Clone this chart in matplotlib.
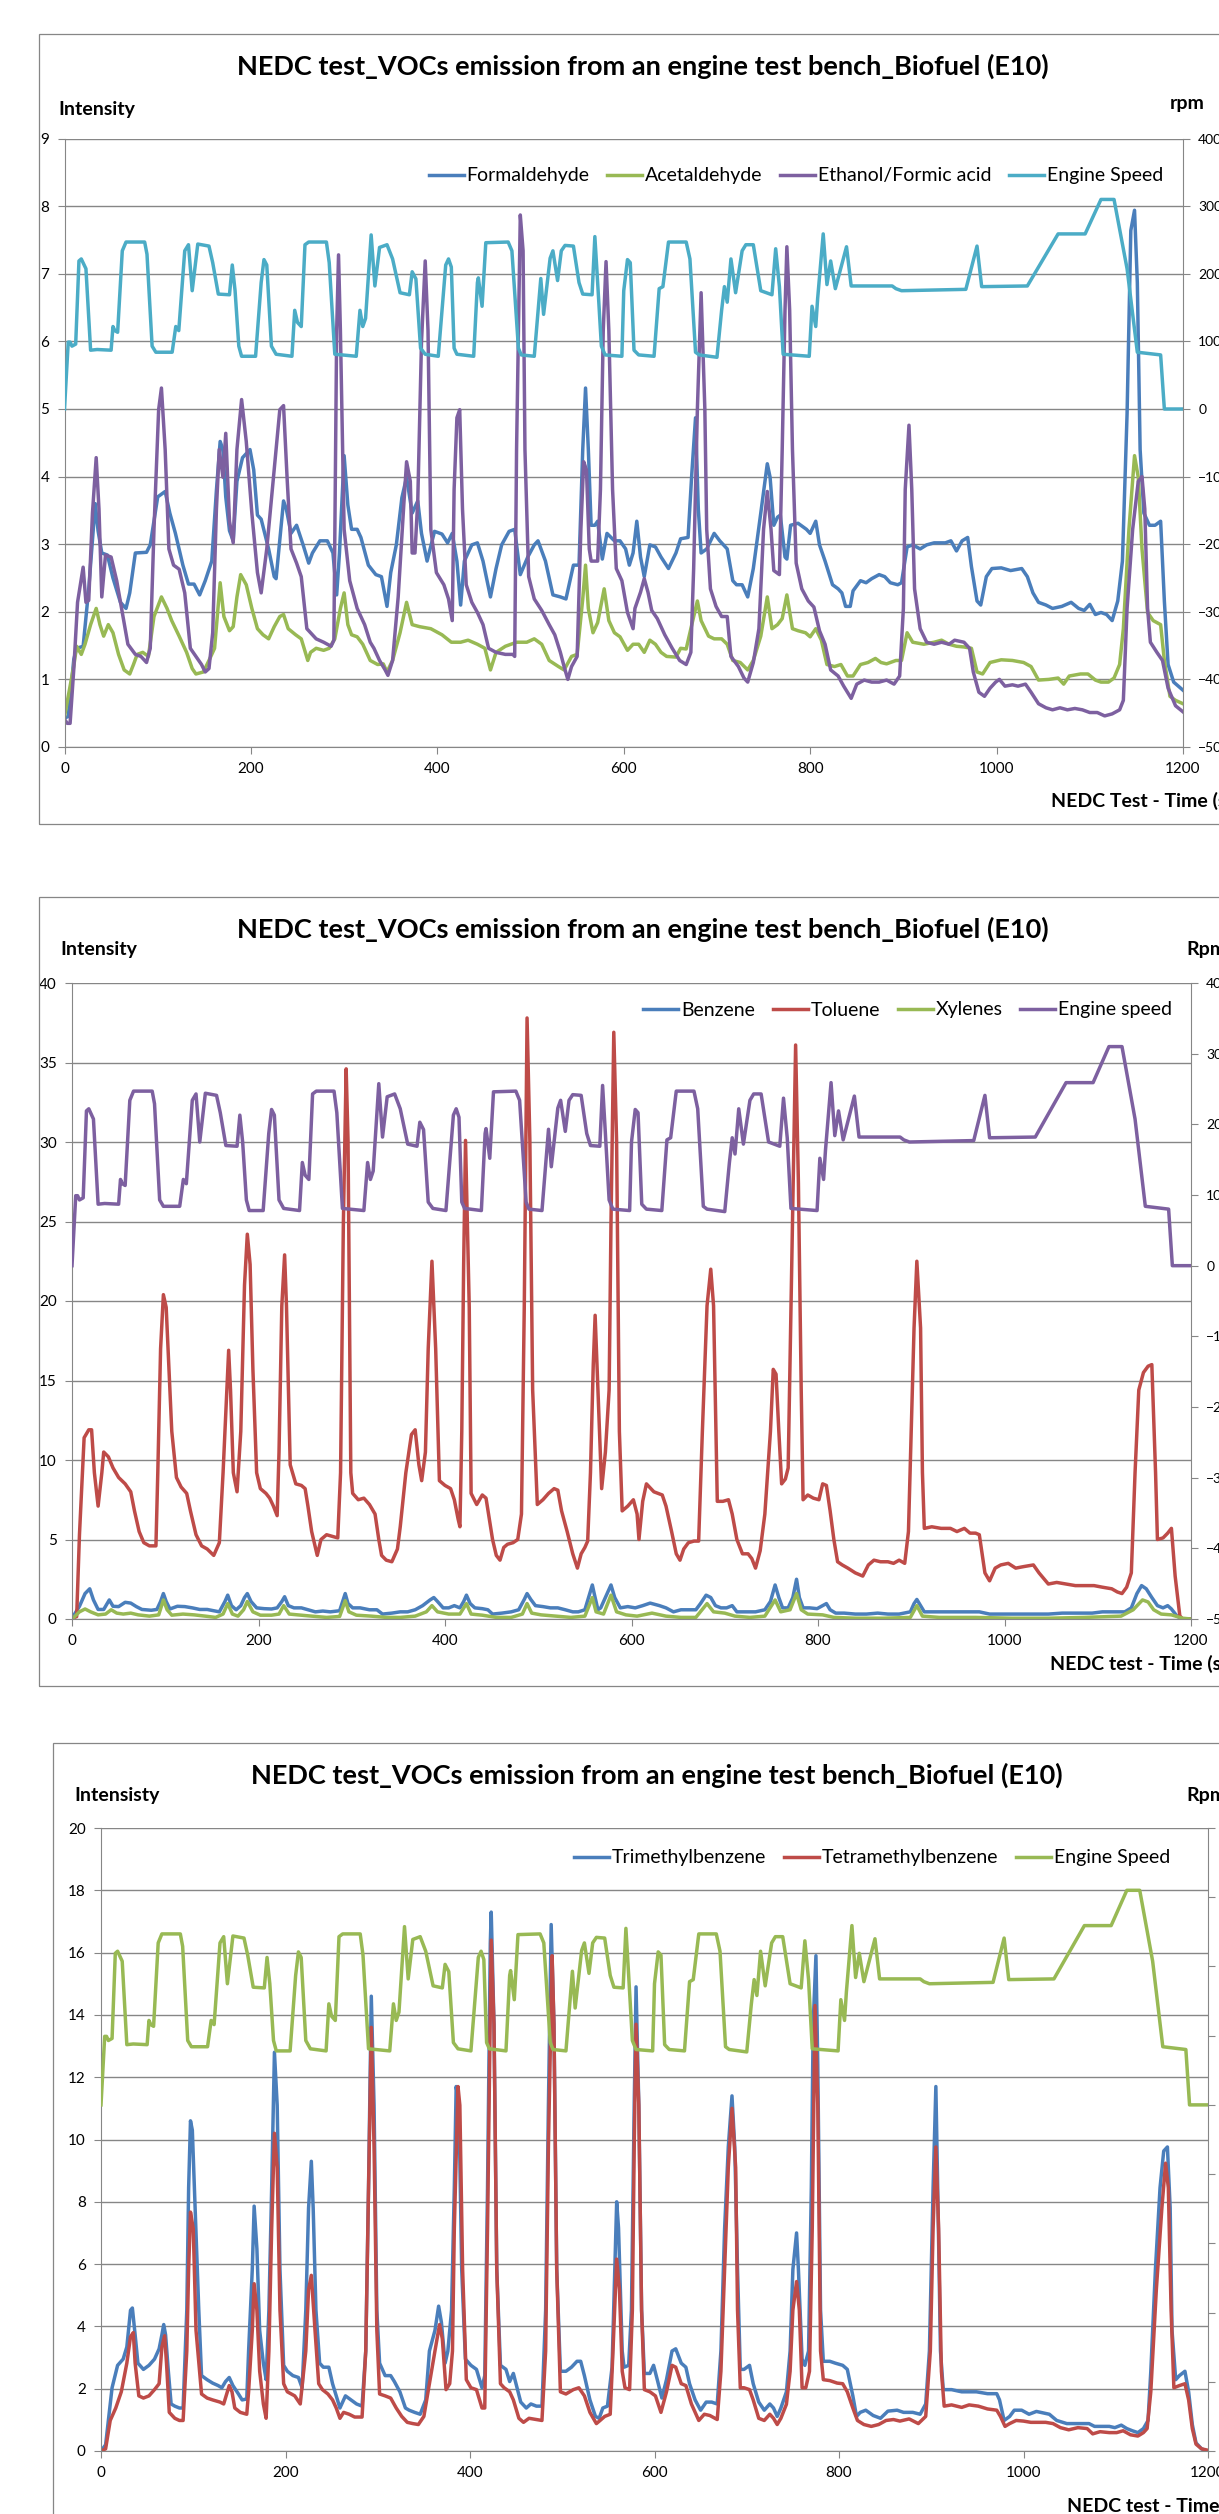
import matplotlib
matplotlib.use('Agg')
import matplotlib.pyplot as plt
from matplotlib.patches import Rectangle

plt.rcParams['font.family'] = ['Lato', 'DejaVu Sans']

W, H = 1219, 2514

BLUE = '#4A7EBB'
RED = '#BE4B48'
GREEN = '#98B954'
PURPLE = '#7D60A0'
AQUA = '#4BACC6'
GRID = '#868686'

# NEDC engine speed (rpm), same trace on all three charts
engine_speed = [(0, 0), (4, 990), (6, 990), (8, 930), (12, 960), (15.5, 2190), (18, 2220), (23, 2075), (28, 870), (35, 880),
                (50, 870), (52, 1220), (54, 1160), (57, 1135), (62, 2340), (66, 2470), (86, 2470), (88.5, 2290), (94, 930),
                (98, 840), (115.5, 840), (119.4, 1220), (122.6, 1160), (129, 2340), (133, 2430), (137, 1750), (143, 2440),
                (155, 2410), (159, 2165), (165, 1700), (177, 1690), (180, 2130), (183, 1750), (187, 930), (190, 780),
                (205, 780), (211, 1870), (214, 2210), (217, 2130), (222, 930), (227, 810), (244, 780), (247, 1460),
                (250, 1280), (254, 1220), (258, 2430), (262, 2470), (281, 2470), (284, 2165), (290, 810), (313, 780),
                (317, 1460), (320, 1220), (323, 1340), (329, 2575), (333, 1820), (338, 2390), (346, 2430), (352, 2220),
                (360, 1720), (370, 1690), (373, 2030), (377, 1925), (382, 900), (387, 810), (401, 780), (409, 2130),
                (412, 2220), (415, 2100), (418, 900), (421, 810), (439, 780), (443, 1870), (444, 1940), (448, 1520),
                (452, 2460), (476, 2470), (480, 2340), (487, 900), (490, 800), (504, 780), (511, 1930), (514, 1400),
                (517, 1750), (521, 2230), (524, 2340), (529, 1900), (533, 2340), (537, 2420), (546, 2410), (552, 1870),
                (556, 1700), (566, 1690), (569, 2550), (572, 1870), (576, 930), (580, 800), (598, 780), (600, 1750),
                (604, 2210), (607, 2165), (611, 870), (616, 800), (632.5, 780), (638, 1780), (642, 1810), (648, 2470),
                (667, 2470), (671, 2220), (677, 840), (681, 800), (700, 765), (705, 1460), (708, 1810), (711, 1580),
                (715, 2220), (720, 1720), (727, 2340), (731, 2430), (739, 2430), (747, 1750), (759, 1690), (763, 2370),
                (767, 1810), (771, 810), (799, 780), (802, 1520), (806, 1220), (808, 1630), (814, 2590), (818, 1840),
                (822, 2190), (827, 1780), (839, 2400), (844, 1820), (888, 1820), (892, 1780), (898, 1750), (967, 1770),
                (979, 2410), (984, 1810), (1033, 1820), (1066, 2590), (1095, 2590), (1112, 3100), (1126, 3100),
                (1140, 2075), (1144, 1630), (1151, 840), (1176, 800), (1180, 0), (1200, 0)]

# chart 1
formaldehyde = [(0, 0.43), (4, 0.45), (10, 1.3), (13, 1.46), (20, 1.49), (26, 2.34), (33, 3.6), (36, 3.2), (40, 2.87), (46, 2.84),
                (52, 2.5), (60, 2.14), (66, 2.05), (70, 2.28), (76, 2.87), (88, 2.88), (92, 2.99), (100, 3.7), (108, 3.78),
                (113, 3.46), (119, 3.16), (127, 2.69), (133, 2.41), (139, 2.41), (145, 2.25), (151, 2.46), (158, 2.75),
                (163, 3.8), (167, 4.52), (170, 4.4), (173, 3.7), (177, 3.2), (181, 3.05), (185, 3.93), (191, 4.28),
                (199, 4.4), (203, 4.1), (207, 3.43), (211, 3.37), (219, 2.93), (225, 2.52), (227, 2.49), (235, 3.64),
                (238, 3.52), (243, 3.16), (249, 3.28), (256, 2.99), (262, 2.72), (266, 2.87), (274, 3.05), (282, 3.05),
                (288, 2.87), (292, 2.25), (295, 2.87), (300, 4.31), (304, 3.58), (308, 3.22), (314, 3.22), (318, 3.1),
                (326, 2.69), (334, 2.55), (340, 2.52), (346, 2.08), (350, 2.58), (356, 2.99), (362, 3.69), (367, 3.99),
                (373, 3.46), (379, 3.64), (383, 3.16), (389, 2.75), (397, 3.19), (405, 3.15), (411, 3.02), (416, 3.16),
                (421, 2.75), (425, 2.1), (429, 2.75), (437, 2.99), (443, 3.02), (449, 2.75), (457, 2.22), (463, 2.64),
                (469, 2.99), (477, 3.19), (483, 3.22), (489, 2.55), (497, 2.81), (504, 2.99), (508, 3.05), (516, 2.75),
                (524, 2.25), (532, 2.22), (538, 2.19), (546, 2.69), (552, 2.69), (556, 4.4), (559, 5.31), (562, 4.4),
                (565, 3.28), (569, 3.28), (572, 3.34), (577, 2.78), (582, 3.16), (590, 3.05), (596, 3.05), (602, 2.93),
                (606, 2.69), (610, 2.87), (614, 3.34), (618, 2.81), (622, 2.52), (628, 2.99), (634, 2.96), (640, 2.81),
                (648, 2.64), (656, 2.87), (661, 3.08), (669, 3.1), (673, 4.04), (677, 4.87), (680, 3.52), (683, 2.87),
                (689, 2.93), (697, 3.16), (703, 3.05), (711, 2.93), (717, 2.46), (721, 2.4), (727, 2.4), (733, 2.22),
                (739, 2.64), (747, 3.46), (754, 4.19), (757, 3.99), (761, 3.28), (765, 3.4), (768, 3.43), (773, 2.81),
                (775, 2.78), (779, 3.28), (787, 3.31), (796, 3.22), (800, 3.16), (806, 3.34), (810, 2.99), (816, 2.75),
                (824, 2.4), (830, 2.34), (834, 2.28), (838, 2.08), (843, 2.08), (846, 2.31), (854, 2.46), (860, 2.43),
                (866, 2.49), (874, 2.55), (880, 2.52), (886, 2.43), (894, 2.4), (898, 2.43), (904, 2.96), (910, 2.99),
                (918, 2.93), (925, 2.99), (933, 3.02), (945, 3.02), (951, 3.05), (957, 2.9), (963, 3.05), (969, 3.1),
                (973, 2.67), (979, 2.16), (983, 2.1), (989, 2.52), (995, 2.64), (1005, 2.65), (1015, 2.61), (1027, 2.64),
                (1033, 2.52), (1039, 2.28), (1045, 2.14), (1053, 2.1), (1060, 2.05), (1070, 2.08), (1080, 2.14),
                (1088, 2.05), (1094, 2.02), (1100, 2.11), (1106, 1.96), (1112, 1.99), (1118, 1.96), (1124, 1.87),
                (1130, 2.16), (1135, 2.75), (1140, 4.93), (1144, 7.64), (1148, 7.94), (1151, 6.87), (1154, 4.4),
                (1158, 3.46), (1164, 3.28), (1170, 3.28), (1176, 3.34), (1180, 2.16), (1184, 1.22), (1190, 0.96),
                (1200, 0.84)]

acetaldehyde = [(0, 0.45), (10, 1.2), (13, 1.49), (18, 1.37), (22, 1.52), (28, 1.81), (34, 2.05), (38, 1.81), (42, 1.64),
                (47, 1.81), (52, 1.69), (58, 1.37), (64, 1.14), (70, 1.08), (74, 1.22), (78, 1.37), (84, 1.4), (90, 1.34),
                (96, 1.93), (104, 2.22), (110, 2.05), (115, 1.87), (123, 1.64), (131, 1.4), (137, 1.16), (141, 1.08),
                (149, 1.11), (155, 1.28), (161, 1.46), (167, 2.43), (171, 1.93), (177, 1.72), (181, 1.78), (185, 2.22),
                (189, 2.55), (195, 2.4), (201, 2.05), (207, 1.75), (213, 1.66), (219, 1.6), (225, 1.78), (231, 1.93),
                (235, 1.96), (240, 1.75), (248, 1.66), (254, 1.6), (261, 1.28), (264, 1.4), (270, 1.46), (278, 1.43),
                (284, 1.46), (290, 1.6), (296, 2.05), (300, 2.28), (304, 1.81), (308, 1.66), (314, 1.63), (320, 1.52),
                (328, 1.28), (336, 1.22), (342, 1.23), (346, 1.11), (352, 1.28), (360, 1.69), (367, 2.14), (373, 1.81),
                (381, 1.78), (393, 1.75), (405, 1.66), (415, 1.55), (425, 1.55), (433, 1.58), (443, 1.52), (451, 1.46),
                (457, 1.14), (463, 1.4), (473, 1.49), (485, 1.55), (496, 1.55), (504, 1.6), (512, 1.52), (520, 1.28),
                (530, 1.19), (536, 1.14), (544, 1.34), (550, 1.37), (556, 2.19), (559, 2.69), (562, 2.05), (567, 1.69),
                (572, 1.84), (579, 2.34), (584, 1.87), (590, 1.69), (596, 1.63), (604, 1.43), (610, 1.52), (616, 1.52),
                (622, 1.4), (628, 1.58), (634, 1.52), (640, 1.4), (646, 1.34), (656, 1.33), (661, 1.46), (667, 1.45),
                (673, 1.81), (679, 2.16), (683, 1.87), (691, 1.64), (697, 1.6), (705, 1.6), (711, 1.52), (717, 1.28),
                (725, 1.25), (733, 1.14), (739, 1.28), (747, 1.64), (754, 2.22), (759, 1.75), (765, 1.81), (770, 1.9),
                (775, 2.25), (781, 1.75), (787, 1.72), (795, 1.69), (800, 1.63), (806, 1.75), (812, 1.58), (818, 1.22),
                (826, 1.19), (833, 1.22), (840, 1.05), (846, 1.05), (854, 1.22), (862, 1.25), (870, 1.31), (876, 1.25),
                (882, 1.23), (892, 1.28), (898, 1.28), (904, 1.69), (910, 1.55), (922, 1.52), (933, 1.55), (941, 1.58),
                (949, 1.52), (957, 1.49), (965, 1.48), (973, 1.46), (979, 1.11), (985, 1.08), (993, 1.25), (1005, 1.29),
                (1017, 1.28), (1029, 1.25), (1037, 1.19), (1045, 0.99), (1056, 1.0), (1066, 1.02), (1072, 0.93),
                (1078, 1.05), (1090, 1.08), (1098, 1.08), (1106, 0.99), (1112, 0.96), (1120, 0.96), (1126, 1.02),
                (1132, 1.22), (1136, 1.75), (1142, 3.22), (1148, 4.31), (1152, 3.99), (1156, 2.93), (1162, 1.99),
                (1168, 1.87), (1176, 1.81), (1180, 1.28), (1186, 0.75), (1192, 0.69), (1200, 0.64)]

ethanol_formic = [(0, 0.41), (3, 0.35), (6, 0.35), (10, 1.16), (14, 2.14), (20, 2.66), (23, 2.14), (26, 2.17), (30, 3.46),
                  (34, 4.28), (37, 3.52), (40, 2.22), (44, 2.84), (50, 2.81), (56, 2.46), (62, 1.99), (68, 1.52), (76, 1.37),
                  (82, 1.34), (88, 1.25), (92, 1.46), (96, 3.22), (101, 4.99), (104, 5.31), (108, 4.4), (112, 2.93),
                  (117, 2.69), (123, 2.63), (129, 2.28), (135, 1.46), (141, 1.34), (147, 1.22), (151, 1.11), (155, 1.16),
                  (159, 1.69), (163, 3.52), (166, 4.4), (170, 3.99), (173, 4.64), (177, 3.34), (181, 3.02), (185, 4.4),
                  (190, 5.14), (195, 4.52), (201, 3.46), (207, 2.58), (211, 2.28), (217, 2.93), (225, 4.1), (231, 4.99),
                  (235, 5.05), (239, 3.93), (243, 2.93), (249, 2.72), (254, 2.52), (260, 1.75), (270, 1.6), (278, 1.55),
                  (286, 1.49), (289, 1.58), (292, 6.16), (294, 7.28), (296, 6.16), (300, 3.22), (306, 2.46), (314, 2.05),
                  (322, 1.81), (328, 1.55), (332, 1.46), (338, 1.28), (344, 1.14), (347, 1.06), (352, 1.28), (358, 2.22),
                  (364, 3.58), (367, 4.22), (371, 3.93), (373, 2.87), (376, 2.87), (379, 3.64), (383, 5.99), (387, 7.19),
                  (390, 6.16), (393, 3.22), (399, 2.58), (407, 2.4), (412, 2.19), (416, 1.87), (418, 3.81), (421, 4.87),
                  (424, 4.99), (427, 3.52), (431, 2.4), (437, 2.14), (443, 1.99), (449, 1.81), (455, 1.46), (463, 1.4),
                  (473, 1.37), (481, 1.37), (483, 1.34), (485, 4.4), (489, 7.87), (492, 7.34), (494, 4.4), (498, 2.52),
                  (504, 2.19), (512, 2.02), (520, 1.81), (526, 1.66), (532, 1.4), (536, 1.19), (540, 1.0), (544, 1.19),
                  (550, 1.34), (554, 3.22), (557, 4.22), (560, 4.1), (563, 2.93), (565, 2.75), (572, 2.75), (575, 3.81),
                  (578, 6.16), (581, 7.18), (584, 6.16), (588, 3.81), (592, 2.64), (598, 2.46), (604, 1.99), (610, 1.75),
                  (612, 2.05), (618, 2.29), (622, 2.49), (626, 2.29), (630, 2.02), (636, 1.9), (644, 1.66), (652, 1.46),
                  (660, 1.28), (667, 1.22), (672, 1.4), (675, 2.64), (679, 5.0), (683, 6.72), (687, 5.0), (689, 3.22),
                  (693, 2.34), (699, 2.08), (705, 1.93), (711, 1.93), (715, 1.34), (723, 1.19), (729, 1.02), (733, 0.96),
                  (739, 1.25), (745, 1.75), (750, 3.22), (754, 3.78), (758, 3.22), (761, 2.61), (767, 2.55), (770, 4.4),
                  (773, 6.46), (775, 7.4), (778, 6.46), (781, 4.4), (785, 2.72), (791, 2.34), (798, 2.16), (804, 2.07),
                  (810, 1.72), (816, 1.52), (822, 1.14), (830, 1.05), (836, 0.9), (844, 0.72), (850, 0.93), (858, 0.99),
                  (866, 0.96), (874, 0.96), (882, 0.99), (890, 0.93), (896, 1.05), (900, 2.05), (902, 3.81), (906, 4.76),
                  (909, 3.81), (912, 2.34), (918, 1.75), (925, 1.55), (933, 1.52), (941, 1.55), (949, 1.52), (955, 1.58),
                  (965, 1.55), (971, 1.46), (975, 1.11), (981, 0.81), (987, 0.75), (993, 0.87), (999, 0.96), (1003, 1.0),
                  (1009, 0.9), (1017, 0.92), (1023, 0.9), (1031, 0.93), (1037, 0.81), (1045, 0.64), (1053, 0.58),
                  (1060, 0.55), (1068, 0.58), (1076, 0.55), (1084, 0.57), (1092, 0.55), (1100, 0.51), (1108, 0.51),
                  (1116, 0.46), (1124, 0.49), (1132, 0.55), (1136, 0.69), (1140, 2.05), (1146, 3.22), (1152, 3.93),
                  (1156, 4.0), (1159, 3.52), (1162, 2.05), (1165, 1.55), (1172, 1.4), (1178, 1.28), (1184, 0.87),
                  (1192, 0.61), (1200, 0.52)]

# chart 2
benzene = [(0, 0.05), (8, 0.8), (14, 1.6), (19, 1.9), (23, 1.2), (28, 0.6), (34, 0.6), (40, 1.2), (44, 0.8), (50, 0.78),
           (57, 1.05), (63, 1.0), (69, 0.78), (75, 0.6), (85, 0.55), (91, 0.6), (95, 1.1), (98, 1.6), (101, 1.1),
           (105, 0.63), (113, 0.8), (121, 0.78), (129, 0.7), (137, 0.6), (145, 0.6), (152, 0.52), (158, 0.45), (164, 1.1),
           (167, 1.5), (171, 0.84), (176, 0.58), (181, 0.84), (185, 1.35), (188, 1.6), (192, 1.1), (198, 0.7), (206, 0.65),
           (214, 0.63), (220, 0.7), (225, 1.1), (228, 1.4), (232, 0.84), (238, 0.7), (246, 0.7), (253, 0.58), (261, 0.45),
           (269, 0.5), (277, 0.45), (287, 0.52), (291, 1.23), (293, 1.6), (296, 0.97), (301, 0.7), (309, 0.7), (319, 0.58),
           (327, 0.58), (333, 0.31), (343, 0.37), (352, 0.45), (360, 0.45), (368, 0.58), (376, 0.84), (384, 1.2),
           (388, 1.35), (392, 1.1), (398, 0.7), (404, 0.7), (410, 0.84), (416, 0.7), (420, 1.1), (423, 1.5), (427, 0.97),
           (432, 0.7), (440, 0.65), (446, 0.58), (451, 0.31), (461, 0.37), (471, 0.45), (479, 0.58), (485, 1.23),
           (488, 1.6), (492, 1.23), (497, 0.84), (505, 0.78), (513, 0.7), (521, 0.7), (529, 0.58), (537, 0.45),
           (543, 0.45), (550, 0.58), (554, 1.35), (558, 2.14), (560, 1.6), (564, 0.58), (567, 0.7), (572, 1.35),
           (578, 2.14), (582, 1.35), (588, 0.7), (596, 0.78), (604, 0.7), (612, 0.84), (620, 1.0), (630, 0.84),
           (637, 0.7), (645, 0.45), (653, 0.58), (661, 0.58), (669, 0.58), (674, 0.97), (680, 1.5), (685, 1.35),
           (690, 0.84), (696, 0.7), (702, 0.7), (708, 0.84), (713, 0.45), (723, 0.45), (733, 0.45), (743, 0.58),
           (749, 1.1), (754, 2.14), (758, 1.35), (762, 0.7), (768, 0.7), (773, 1.35), (777, 2.5), (780, 1.35), (784, 0.7),
           (791, 0.7), (799, 0.65), (805, 0.84), (809, 0.97), (813, 0.58), (819, 0.37), (828, 0.37), (840, 0.31),
           (852, 0.31), (864, 0.37), (875, 0.31), (887, 0.31), (899, 0.45), (903, 0.97), (906, 1.23), (910, 0.84),
           (914, 0.45), (926, 0.45), (938, 0.45), (949, 0.45), (961, 0.45), (973, 0.45), (984, 0.31), (1000, 0.31),
           (1016, 0.31), (1031, 0.31), (1047, 0.31), (1062, 0.37), (1078, 0.37), (1094, 0.37), (1105, 0.45),
           (1117, 0.45), (1129, 0.45), (1136, 0.7), (1142, 1.6), (1147, 2.1), (1152, 1.9), (1158, 1.35), (1164, 0.84),
           (1170, 0.7), (1175, 0.84), (1179, 0.63), (1185, 0.18), (1191, 0.0), (1200, 0.0)]

toluene = [(0, 0.05), (5, 0.15), (8, 5.3), (13, 11.4), (18, 11.9), (21, 11.9), (24, 9.2), (28, 7.1), (32, 9.2), (34, 10.5),
           (39, 10.2), (44, 9.5), (50, 8.9), (57, 8.5), (63, 8.0), (67, 6.8), (72, 5.5), (77, 4.8), (83, 4.6), (90, 4.6),
           (92, 9.2), (95, 17.0), (98, 20.4), (101, 19.6), (104, 15.7), (107, 11.8), (112, 8.9), (117, 8.3), (123, 7.9),
           (127, 6.8), (133, 5.3), (139, 4.6), (145, 4.4), (152, 4.0), (158, 4.8), (162, 9.2), (166, 14.4), (168, 16.9),
           (170, 14.4), (173, 9.2), (177, 8.0), (181, 11.8), (185, 21.0), (188, 24.2), (191, 22.3), (194, 15.7),
           (198, 9.2), (202, 8.2), (208, 7.9), (212, 7.6), (216, 7.1), (220, 6.5), (222, 10.5), (225, 19.7), (228, 22.9),
           (230, 19.7), (234, 9.7), (240, 8.5), (246, 8.4), (250, 8.2), (253, 7.1), (257, 5.5), (263, 4.0), (267, 5.0),
           (273, 5.3), (279, 5.2), (285, 5.1), (288, 9.2), (291, 24.9), (294, 34.6), (296, 30.1), (299, 9.2), (301, 7.9),
           (307, 7.5), (313, 7.6), (319, 7.2), (325, 6.6), (329, 5.0), (332, 4.0), (337, 3.7), (343, 3.6), (349, 4.4),
           (352, 5.8), (358, 9.2), (364, 11.6), (368, 11.9), (372, 9.7), (375, 8.7), (379, 10.5), (382, 17.0),
           (386, 22.5), (390, 17.0), (394, 8.7), (400, 8.4), (406, 8.2), (410, 7.5), (414, 6.3), (416, 5.8), (418, 11.8),
           (420, 22.3), (422, 30.1), (426, 19.6), (428, 7.9), (434, 7.2), (440, 7.8), (444, 7.6), (448, 6.1), (451, 5.0),
           (455, 4.0), (459, 3.7), (463, 4.5), (467, 4.7), (473, 4.8), (478, 5.0), (482, 6.6), (485, 19.6), (488, 37.8),
           (491, 30.1), (494, 14.4), (499, 7.2), (505, 7.5), (511, 7.9), (517, 8.2), (521, 8.1), (525, 6.8), (531, 5.5),
           (537, 4.1), (542, 3.2), (546, 4.1), (550, 4.5), (553, 4.9), (556, 9.2), (559, 16.0), (561, 19.1), (564, 14.4),
           (568, 8.2), (572, 10.5), (576, 14.4), (578, 24.9), (581, 36.9), (584, 30.1), (587, 11.8), (590, 6.8),
           (596, 7.1), (602, 7.5), (606, 6.6), (608, 5.0), (612, 7.4), (616, 8.5), (624, 8.0), (633, 7.8), (637, 7.1),
           (643, 5.5), (648, 4.1), (652, 3.7), (656, 4.4), (661, 4.8), (667, 4.9), (672, 4.9), (676, 11.8), (681, 19.7),
           (685, 22.0), (688, 19.7), (692, 7.4), (698, 7.4), (704, 7.5), (708, 6.6), (713, 5.0), (719, 4.1), (725, 4.1),
           (729, 3.8), (733, 3.2), (738, 4.3), (743, 6.6), (749, 11.8), (752, 15.7), (755, 15.4), (758, 11.8),
           (761, 8.5), (765, 8.8), (768, 9.5), (771, 19.6), (774, 30.1), (776, 36.1), (779, 27.4), (782, 14.4),
           (784, 7.5), (789, 7.8), (795, 7.6), (801, 7.5), (805, 8.5), (809, 8.4), (813, 6.8), (817, 5.0), (821, 3.6),
           (826, 3.4), (832, 3.2), (840, 2.9), (848, 2.7), (854, 3.4), (860, 3.7), (867, 3.6), (875, 3.6), (881, 3.5),
           (887, 3.7), (893, 3.5), (897, 5.5), (900, 11.8), (903, 18.3), (906, 22.5), (910, 18.3), (912, 9.2),
           (914, 5.7), (922, 5.8), (932, 5.7), (942, 5.7), (949, 5.5), (957, 5.7), (963, 5.4), (969, 5.4), (973, 5.3),
           (979, 2.9), (984, 2.4), (990, 3.2), (996, 3.4), (1004, 3.5), (1012, 3.2), (1021, 3.3), (1031, 3.4),
           (1037, 2.9), (1047, 2.2), (1056, 2.3), (1066, 2.2), (1076, 2.1), (1086, 2.1), (1096, 2.1), (1105, 2.0),
           (1115, 1.9), (1121, 1.7), (1126, 1.6), (1131, 2.0), (1136, 2.9), (1140, 9.2), (1144, 14.4), (1149, 15.5),
           (1154, 15.9), (1158, 16.0), (1162, 9.2), (1164, 5.0), (1170, 5.1), (1175, 5.4), (1179, 5.7), (1183, 2.7),
           (1188, 0.2), (1191, 0.0), (1200, 0.0)]

xylenes = [(0, 0.0), (8, 0.45), (14, 0.63), (20, 0.45), (28, 0.26), (36, 0.31), (42, 0.58), (48, 0.37), (55, 0.31),
           (63, 0.37), (71, 0.26), (83, 0.18), (93, 0.26), (98, 1.2), (102, 0.58), (107, 0.24), (119, 0.31), (131, 0.26),
           (143, 0.18), (154, 0.1), (162, 0.31), (167, 0.97), (172, 0.31), (178, 0.18), (184, 0.58), (188, 1.1),
           (194, 0.45), (202, 0.24), (214, 0.24), (222, 0.31), (227, 0.84), (233, 0.31), (242, 0.26), (257, 0.18),
           (273, 0.1), (287, 0.16), (293, 1.15), (297, 0.45), (305, 0.24), (321, 0.18), (337, 0.1), (352, 0.1),
           (368, 0.18), (380, 0.45), (386, 0.84), (392, 0.45), (404, 0.31), (416, 0.31), (423, 0.97), (428, 0.31),
           (440, 0.24), (455, 0.1), (471, 0.1), (483, 0.31), (488, 0.97), (493, 0.37), (503, 0.26), (519, 0.18),
           (535, 0.1), (550, 0.18), (558, 1.35), (562, 0.45), (570, 0.31), (578, 1.5), (584, 0.45), (594, 0.26),
           (606, 0.18), (622, 0.37), (637, 0.18), (653, 0.1), (669, 0.1), (681, 0.97), (688, 0.45), (700, 0.37),
           (711, 0.18), (727, 0.1), (743, 0.18), (754, 1.2), (760, 0.45), (770, 0.58), (777, 1.6), (782, 0.58),
           (789, 0.31), (805, 0.26), (817, 0.1), (840, 0.05), (871, 0.05), (899, 0.1), (906, 0.84), (912, 0.18),
           (930, 0.1), (969, 0.1), (1008, 0.05), (1047, 0.05), (1086, 0.1), (1125, 0.18), (1138, 0.58), (1148, 1.2),
           (1154, 1.07), (1160, 0.58), (1168, 0.31), (1179, 0.26), (1191, 0.05), (1200, 0.0)]

# chart 3
trimethylbenzene = [(0, 0.0), (5, 0.2), (12, 2.03), (18, 2.75), (24, 2.95), (28, 3.34), (32, 4.52), (34, 4.59), (37, 3.73),
                    (40, 2.82), (46, 2.62), (52, 2.75), (58, 2.95), (63, 3.28), (66, 3.73), (68, 4.06), (70, 3.73),
                    (73, 2.56), (76, 1.51), (80, 1.44), (85, 1.38), (89, 1.38), (93, 4.52), (95, 8.45), (97, 10.6),
                    (99, 10.3), (102, 7.8), (106, 4.52), (109, 2.42), (115, 2.29), (121, 2.18), (127, 2.1), (131, 2.03),
                    (135, 2.23), (139, 2.36), (143, 2.1), (149, 1.83), (153, 1.64), (158, 1.67), (160, 3.21), (164, 5.83),
                    (166, 7.86), (169, 6.49), (172, 3.87), (176, 2.82), (179, 2.29), (182, 4.52), (185, 8.45), (188, 12.8),
                    (191, 11.1), (194, 5.83), (198, 2.75), (202, 2.56), (208, 2.42), (214, 2.36), (218, 2.03), (222, 4.52),
                    (225, 7.8), (228, 9.3), (230, 7.8), (233, 4.52), (237, 2.82), (241, 2.69), (247, 2.69), (251, 2.16),
                    (255, 1.77), (259, 1.38), (265, 1.77), (271, 1.64), (277, 1.51), (283, 1.44), (287, 3.21), (290, 8.45),
                    (293, 14.6), (296, 11.1), (299, 4.52), (302, 2.82), (308, 2.42), (314, 2.42), (318, 2.23), (324, 1.9),
                    (330, 1.38), (334, 1.31), (340, 1.24), (346, 1.18), (352, 1.64), (356, 3.21), (362, 3.87), (366, 4.65),
                    (369, 4.13), (373, 2.82), (376, 3.21), (380, 4.52), (383, 8.45), (385, 11.7), (388, 11.1), (391, 5.83),
                    (395, 2.95), (401, 2.75), (407, 2.62), (413, 2.03), (416, 2.42), (419, 8.45), (422, 16.3), (423, 17.3),
                    (426, 13.7), (429, 5.83), (433, 2.75), (439, 2.62), (443, 2.23), (447, 2.49), (451, 2.03), (455, 1.57),
                    (461, 1.38), (466, 1.51), (472, 1.44), (478, 1.44), (482, 4.52), (485, 11.1), (488, 16.9), (491, 13.7),
                    (494, 5.83), (498, 2.56), (504, 2.56), (510, 2.69), (516, 2.88), (520, 2.88), (524, 2.42), (530, 1.64),
                    (536, 1.11), (540, 1.05), (544, 1.38), (549, 1.44), (554, 2.69), (557, 5.83), (559, 8.0), (561, 7.16),
                    (565, 3.21), (567, 2.69), (572, 2.75), (575, 4.52), (578, 11.1), (580, 14.9), (583, 11.1), (586, 4.52),
                    (589, 2.49), (595, 2.49), (599, 2.75), (603, 2.29), (608, 1.7), (613, 2.29), (619, 3.21), (623, 3.28),
                    (629, 2.82), (634, 2.69), (638, 2.16), (644, 1.64), (650, 1.31), (656, 1.57), (662, 1.57), (668, 1.51),
                    (672, 3.21), (676, 7.14), (680, 9.76), (684, 11.4), (687, 9.76), (690, 5.83), (693, 2.62), (697, 2.62),
                    (703, 2.75), (707, 2.16), (713, 1.57), (719, 1.31), (725, 1.51), (729, 1.38), (733, 1.11), (737, 1.38),
                    (743, 1.9), (747, 3.21), (750, 5.83), (754, 7.0), (756, 5.83), (760, 2.95), (763, 2.75), (767, 3.21),
                    (770, 8.45), (772, 13.7), (775, 15.9), (777, 12.4), (780, 4.52), (783, 2.88), (790, 2.88), (796, 2.82),
                    (804, 2.75), (809, 2.62), (815, 1.77), (819, 1.11), (823, 1.24), (829, 1.31), (837, 1.14), (845, 1.05),
                    (853, 1.28), (863, 1.31), (870, 1.24), (880, 1.24), (888, 1.18), (894, 1.51), (898, 3.21), (902, 8.45),
                    (905, 11.7), (907, 8.45), (910, 3.21), (913, 1.97), (922, 1.97), (933, 1.9), (949, 1.9), (961, 1.84),
                    (971, 1.84), (974, 1.64), (979, 0.98), (985, 1.11), (990, 1.31), (998, 1.31), (1006, 1.18),
                    (1014, 1.27), (1022, 1.22), (1028, 1.18), (1036, 0.98), (1047, 0.88), (1059, 0.88), (1071, 0.88),
                    (1077, 0.79), (1085, 0.79), (1093, 0.79), (1099, 0.75), (1106, 0.83), (1112, 0.72), (1118, 0.65),
                    (1124, 0.59), (1130, 0.72), (1135, 0.98), (1138, 2.56), (1143, 5.83), (1148, 8.45), (1152, 9.63),
                    (1156, 9.76), (1159, 7.8), (1161, 3.87), (1165, 2.29), (1169, 2.42), (1175, 2.56), (1179, 1.9),
                    (1183, 0.85), (1187, 0.26), (1193, 0.07), (1199, 0.0)]

tetramethylbenzene = [(0, 0.0), (5, 0.07), (10, 0.98), (16, 1.38), (22, 1.9), (28, 2.82), (32, 3.67), (35, 3.8), (37, 2.82),
                      (41, 1.77), (46, 1.7), (52, 1.77), (58, 1.97), (63, 2.16), (66, 3.34), (69, 3.7), (71, 2.82),
                      (74, 1.24), (80, 1.05), (85, 0.98), (89, 0.98), (93, 3.21), (95, 5.83), (97, 7.67), (100, 7.14),
                      (103, 3.87), (109, 1.83), (115, 1.7), (121, 1.64), (129, 1.57), (133, 1.51), (139, 2.1), (142, 1.9),
                      (145, 1.38), (151, 1.24), (158, 1.18), (160, 1.9), (164, 3.87), (166, 5.37), (169, 4.52), (172, 2.56),
                      (176, 1.51), (179, 1.05), (182, 3.21), (185, 7.14), (188, 10.2), (191, 9.1), (194, 4.52), (198, 2.16),
                      (202, 1.9), (210, 1.77), (216, 1.51), (222, 3.21), (225, 5.18), (228, 5.64), (232, 3.87), (236, 2.16),
                      (240, 1.97), (246, 1.83), (251, 1.64), (255, 1.38), (259, 1.05), (263, 1.24), (269, 1.18),
                      (275, 1.09), (283, 1.09), (287, 3.21), (290, 8.45), (293, 13.6), (296, 9.76), (299, 3.87),
                      (302, 1.83), (308, 1.77), (314, 1.7), (320, 1.38), (326, 1.11), (332, 0.92), (338, 0.88), (344, 0.85),
                      (350, 1.11), (356, 2.16), (362, 3.21), (367, 4.06), (370, 3.6), (374, 1.97), (378, 2.16), (381, 3.21),
                      (383, 7.14), (387, 11.7), (389, 11.1), (392, 5.83), (396, 2.29), (401, 2.03), (407, 1.97),
                      (413, 1.38), (416, 1.38), (419, 7.14), (423, 16.4), (426, 13.7), (429, 5.83), (433, 2.16),
                      (437, 2.03), (443, 1.9), (447, 1.64), (453, 1.05), (458, 0.92), (464, 1.05), (472, 1.01), (478, 0.98),
                      (482, 3.21), (485, 9.76), (489, 15.9), (491, 13.7), (494, 5.83), (498, 1.9), (504, 1.83), (512, 1.97),
                      (518, 2.03), (524, 1.77), (530, 1.24), (537, 0.88), (541, 0.98), (546, 1.11), (552, 1.18),
                      (555, 3.21), (559, 6.16), (562, 5.18), (565, 2.56), (568, 2.03), (573, 1.97), (576, 4.52),
                      (578, 9.76), (580, 13.7), (583, 11.1), (586, 4.52), (589, 1.97), (595, 1.9), (601, 1.77),
                      (607, 1.24), (613, 1.9), (619, 2.75), (623, 2.69), (629, 2.16), (634, 2.1), (640, 1.51), (648, 0.98),
                      (654, 1.18), (660, 1.14), (668, 1.01), (672, 2.56), (676, 5.83), (680, 9.1), (684, 11.0), (688, 9.1),
                      (690, 4.52), (693, 2.03), (697, 2.03), (703, 1.97), (707, 1.64), (713, 1.05), (719, 0.98),
                      (725, 1.18), (729, 1.05), (733, 0.85), (737, 1.05), (743, 1.5), (747, 2.56), (750, 4.52), (754, 5.44),
                      (757, 4.52), (760, 2.03), (764, 2.03), (768, 2.56), (771, 7.14), (774, 14.3), (777, 11.1),
                      (780, 3.21), (783, 2.29), (790, 2.26), (798, 2.18), (804, 2.16), (809, 1.9), (815, 1.38), (820, 0.98),
                      (827, 0.85), (835, 0.79), (843, 0.85), (851, 0.98), (859, 1.01), (866, 0.96), (876, 1.03),
                      (886, 0.88), (894, 1.11), (899, 3.21), (902, 7.14), (905, 9.76), (908, 7.14), (911, 2.56),
                      (914, 1.44), (922, 1.48), (933, 1.4), (941, 1.48), (951, 1.44), (961, 1.35), (971, 1.31),
                      (975, 1.11), (980, 0.79), (985, 0.88), (992, 0.98), (1000, 0.96), (1008, 0.92), (1016, 0.92),
                      (1024, 0.92), (1032, 0.88), (1040, 0.75), (1049, 0.68), (1059, 0.75), (1069, 0.72), (1075, 0.55),
                      (1083, 0.62), (1093, 0.59), (1101, 0.59), (1108, 0.65), (1116, 0.52), (1124, 0.48), (1130, 0.59),
                      (1134, 0.72), (1138, 1.9), (1144, 5.18), (1150, 7.8), (1154, 9.24), (1157, 8.45), (1160, 4.52),
                      (1163, 2.03), (1169, 2.1), (1175, 2.16), (1179, 1.64), (1183, 0.72), (1187, 0.22), (1193, 0.07),
                      (1199, 0.03)]

X_TICKS = [0, 200, 400, 600, 800, 1000, 1200]
RPM_TICKS = [-5000, -4000, -3000, -2000, -1000, 0, 1000, 2000, 3000, 4000]


def fig_xy(x, y):
    """ Pixel position (from top-left) to figure fraction. """
    return x / W, 1 - y / H


def px_rect(x0, y0, x1, y1):
    return [x0 / W, 1 - y1 / H, (x1 - x0) / W, (y1 - y0) / H]


def draw_panel(fig, frame, plot, series, ymax, ystep, speed_color, speed_label,
               title_y, title_x, ylab, ylab_xy, rlab, rlab_xy, xlab, xlab_xy, legend_xy):
    """ One Excel style chart: emissions on the left axis, engine speed on the right one. """
    fx0, fy0, fx1, fy1 = frame
    fig.add_artist(Rectangle(fig_xy(fx0, fy1), (fx1 - fx0) / W, (fy1 - fy0) / H,
                             transform=fig.transFigure, fill=False, edgecolor=GRID, lw=0.9))

    ax = fig.add_axes(px_rect(*plot))
    handles = []
    for name, pts, color in series:
        t, v = zip(*pts)
        line, = ax.plot(t, v, color=color, lw=2.5, label=name, solid_joinstyle='round')
        handles.append(line)
    ax.set_xlim(0, 1200)
    ax.set_ylim(0, ymax)
    ax.set_xticks(X_TICKS)
    ax.set_yticks([ystep * i for i in range(int(round(ymax / ystep)) + 1)])
    ax.yaxis.grid(True, color=GRID, lw=1.0)
    ax.set_axisbelow(True)
    for side in ['top', 'right']:
        ax.spines[side].set_visible(False)
    for side in ['left', 'bottom']:
        ax.spines[side].set_color(GRID)
    ax.tick_params(axis='both', colors=GRID, labelcolor='black', labelsize=11, length=5, direction='out')
    ax.tick_params(axis='x', pad=6)
    ax.tick_params(axis='y', pad=6)

    ax2 = ax.twinx()
    t, v = zip(*engine_speed)
    sline, = ax2.plot(t, v, color=speed_color, lw=2.5, label=speed_label, solid_joinstyle='round')
    handles.append(sline)
    ax2.set_ylim(-5000, 4000)
    ax2.set_yticks(RPM_TICKS)
    for side in ['top', 'left', 'bottom']:
        ax2.spines[side].set_visible(False)
    ax2.spines['right'].set_color(GRID)
    ax2.tick_params(axis='y', colors=GRID, labelcolor='black', labelsize=10, length=5, direction='out', pad=6)

    fig.text(*fig_xy(title_x, title_y), 'NEDC test_VOCs emission from an engine test bench_Biofuel (E10)',
             ha='center', va='center', fontsize=19.5, fontweight='bold')
    fig.text(*fig_xy(*ylab_xy), ylab, ha='left', va='center', fontsize=14, fontweight='bold')
    fig.text(*fig_xy(*rlab_xy), rlab, ha='left', va='center', fontsize=14, fontweight='bold')
    fig.text(*fig_xy(*xlab_xy), xlab, ha='left', va='center', fontsize=14, fontweight='bold')

    fig.legend(handles, [h.get_label() for h in handles], loc='center right',
               bbox_to_anchor=fig_xy(*legend_xy), ncol=len(handles), frameon=False, fontsize=14,
               handlelength=1.8, handletextpad=0.15, columnspacing=0.9, borderaxespad=0, borderpad=0)
    return ax, ax2


fig = plt.figure(figsize=(W / 100, H / 100), dpi=100)

draw_panel(fig, (39, 34, 1300, 824), (64.5, 138.6, 1183, 747),
           [('Formaldehyde', formaldehyde, BLUE), ('Acetaldehyde', acetaldehyde, GREEN),
            ('Ethanol/Formic acid', ethanol_formic, PURPLE)],
           9, 1, AQUA, 'Engine Speed',
           66, 643, 'Intensity', (58, 110), 'rpm', (1170, 103), 'NEDC Test - Time (s)', (1051, 801), (1163, 176))

draw_panel(fig, (39, 897, 1300, 1686), (72, 983, 1191, 1619),
           [('Benzene', benzene, BLUE), ('Toluene', toluene, RED), ('Xylenes', xylenes, GREEN)],
           40, 5, PURPLE, 'Engine speed',
           929, 643, 'Intensity', (60, 950), 'Rpm', (1186, 949), 'NEDC test - Time (s)', (1050, 1664), (1172, 1010))

draw_panel(fig, (53, 1743, 1300, 2700), (101, 1828, 1208, 2451),
           [('Trimethylbenzene', trimethylbenzene, BLUE), ('Tetramethylbenzene', tetramethylbenzene, RED)],
           20, 2, GREEN, 'Engine Speed',
           1775, 657, 'Intensisty', (74, 1795), 'Rpm', (1186, 1796), 'NEDC test - Time', (1067, 2506), (1170, 1858))

fig.savefig('out.png', dpi=100)
